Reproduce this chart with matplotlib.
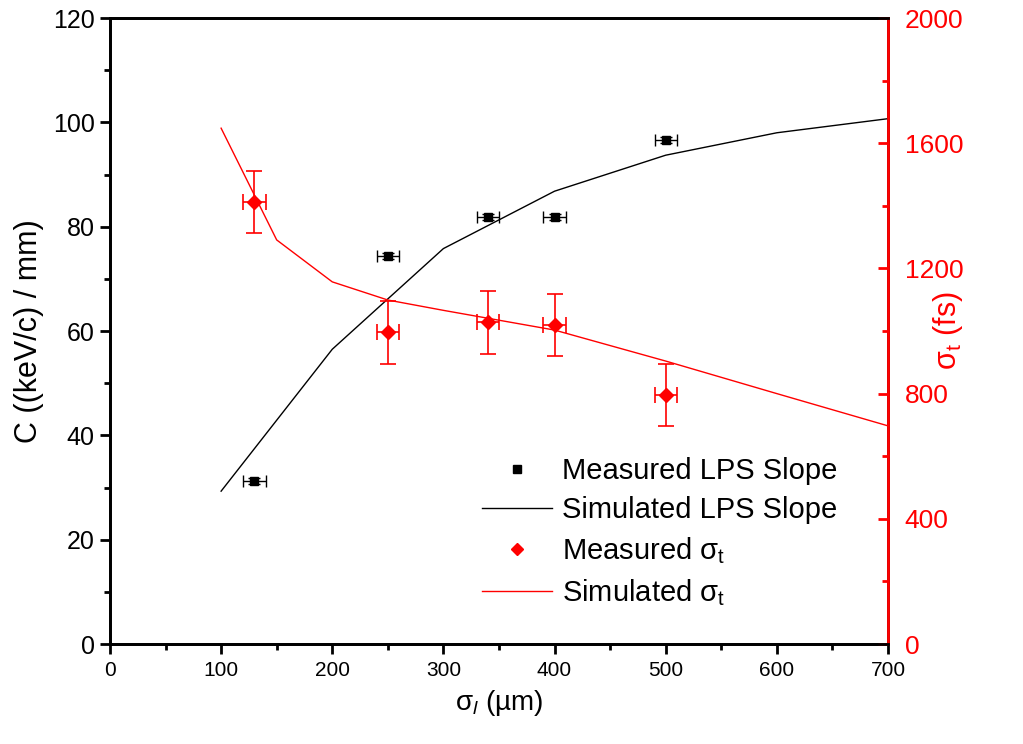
import matplotlib
matplotlib.use('Agg')
import matplotlib.pyplot as plt
from matplotlib.lines import Line2D
from matplotlib.ticker import MultipleLocator

plt.rcParams['font.family'] = ['Liberation Sans', 'DejaVu Sans']
plt.rcParams['mathtext.fontset'] = 'custom'
plt.rcParams['mathtext.rm'] = 'Liberation Sans'
plt.rcParams['mathtext.it'] = 'Liberation Sans:italic'

# measured LPS slope (left axis)
meas_x = [130, 250, 340, 400, 500]
meas_c = [31.2, 74.4, 81.8, 81.8, 96.6]
meas_c_err = [0.6, 0.6, 0.6, 0.6, 0.6]
meas_x_err = [10, 10, 10, 10, 10]

# simulated LPS slope
sim_x = [100, 200, 300, 400, 500, 600, 700]
sim_c = [29.3, 56.5, 75.8, 86.8, 93.7, 98.0, 100.7]

# measured bunch length (right axis)
meas_t = [1412, 996, 1028, 1019, 796]
meas_t_err = [100, 100, 100, 100, 100]

# simulated bunch length
simt_x = [100, 150, 200, 250, 300, 400, 500, 600, 700]
simt_y = [1648, 1291, 1157, 1099, 1066, 1003, 904, 800, 697]

fig = plt.figure(figsize=(10.23, 7.44), dpi=100)
ax = fig.add_axes([0.1075, 0.1344, 0.7605, 0.8414])
ax2 = ax.twinx()

ax.plot(sim_x, sim_c, color='black', lw=1.0, zorder=2)
ax.errorbar(meas_x, meas_c, xerr=meas_x_err, yerr=meas_c_err, fmt='s',
            color='black', ms=6, elinewidth=1.0, capsize=4, capthick=1.0,
            zorder=3)

ax2.plot(simt_x, simt_y, color='red', lw=1.0)
ax2.errorbar(meas_x, meas_t, xerr=meas_x_err, yerr=meas_t_err, fmt='D',
             color='red', ms=7, elinewidth=1.2, capsize=6, capthick=1.2)

ax.set_xlim(0, 700)
ax.set_ylim(0, 120)
ax2.set_ylim(0, 2000)

ax.xaxis.set_major_locator(MultipleLocator(100))
ax.xaxis.set_minor_locator(MultipleLocator(50))
ax.yaxis.set_major_locator(MultipleLocator(20))
ax.yaxis.set_minor_locator(MultipleLocator(10))
ax2.yaxis.set_major_locator(MultipleLocator(400))
ax2.yaxis.set_minor_locator(MultipleLocator(200))

for s in ax.spines.values():
    s.set_linewidth(2.0)
for s in ax2.spines.values():
    s.set_linewidth(2.0)
ax2.spines['right'].set_color('red')

ax.tick_params(axis='x', which='major', direction='out', length=7, width=2,
               labelsize=15, pad=5)
ax.tick_params(axis='x', which='minor', direction='out', length=4, width=2)
ax.tick_params(axis='y', which='major', direction='out', length=7, width=2,
               labelsize=18, pad=4)
ax.tick_params(axis='y', which='minor', direction='out', length=4, width=2)
ax2.tick_params(axis='y', which='major', direction='in', length=7, width=2,
                labelsize=19, colors='red', pad=12)
ax2.tick_params(axis='y', which='minor', direction='in', length=4, width=2,
                colors='red')

ax.set_xlabel(r'σ$_{l}$ (µm)', fontsize=20, labelpad=6)
ax.set_ylabel('C ((keV/c) / mm)', fontsize=22, labelpad=6)
ax2.set_ylabel(r'σ$_{\mathrm{t}}$ (fs)', fontsize=22, color='red')
ax2.yaxis.set_label_coords(1.055, 0.5)

handles = [
    Line2D([], [], color='black', marker='s', ls='none', ms=6),
    Line2D([], [], color='black', lw=1.0),
    Line2D([], [], color='red', marker='D', ls='none', ms=6),
    Line2D([], [], color='red', lw=1.0),
]
labels = ['Measured LPS Slope', 'Simulated LPS Slope',
          r'Measured σ$_{\mathrm{t}}$', r'Simulated σ$_{\mathrm{t}}$']
ax2.legend(handles, labels, loc='upper left', bbox_to_anchor=(0.457, 0.405),
           bbox_transform=fig.transFigure, frameon=False, fontsize=21,
           handlelength=2.4, handletextpad=0.35, labelspacing=0.38,
           borderpad=0)

fig.savefig('out.png', dpi=100)
